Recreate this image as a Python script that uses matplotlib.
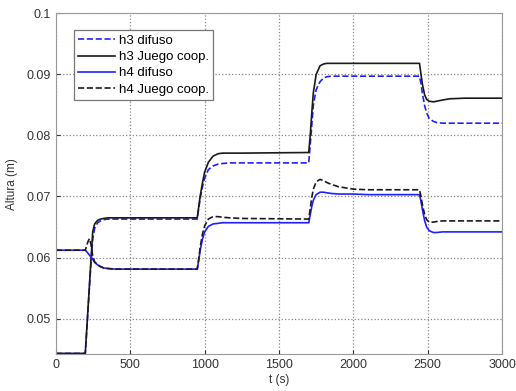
import matplotlib
matplotlib.use("Agg")
import matplotlib.pyplot as plt

plt.rcParams['font.family'] = ['Liberation Sans', 'DejaVu Sans']

# Time points (s)
t = [0, 197, 205, 215, 225, 235, 247, 260, 280, 300, 320, 350, 400,
     950, 960, 970, 985, 1000, 1025, 1056, 1090, 1120, 1170, 1250,
     1700, 1710, 1720, 1731, 1750, 1776, 1800, 1821, 1850, 1900, 2000, 2100,
     2445, 2455, 2465, 2480, 2493, 2510, 2538, 2561, 2600, 2650, 2750, 3000]

h3_difuso = [0.0443, 0.0443, 0.0473, 0.0512, 0.0552, 0.0590, 0.0630, 0.0648, 0.0657, 0.0660, 0.0662, 0.0663, 0.0663,
             0.0663, 0.0680, 0.0697, 0.0716, 0.0730, 0.0744, 0.0750, 0.0753, 0.0754, 0.0755, 0.0755,
             0.0755, 0.0785, 0.0815, 0.0850, 0.0875, 0.0888, 0.0894, 0.0896, 0.0897, 0.0897, 0.0897, 0.0897,
             0.0897, 0.0885, 0.0868, 0.0848, 0.0837, 0.0828, 0.0823, 0.0821, 0.0820, 0.0820, 0.0820, 0.0820]

h3_coop = [0.0443, 0.0443, 0.0475, 0.0515, 0.0555, 0.0595, 0.0642, 0.0655, 0.0661, 0.0663, 0.0664, 0.0665, 0.0665,
           0.0665, 0.0683, 0.0701, 0.0722, 0.0740, 0.0756, 0.0766, 0.0770, 0.0771, 0.0771, 0.0771,
           0.0772, 0.0800, 0.0835, 0.0870, 0.0900, 0.0914, 0.0917, 0.0918, 0.0918, 0.0918, 0.0918, 0.0918,
           0.0918, 0.0900, 0.0883, 0.0866, 0.0859, 0.0856, 0.0855, 0.0856, 0.0858, 0.0860, 0.0861, 0.0861]

h4_difuso = [0.0612, 0.0612, 0.0610, 0.0607, 0.0604, 0.0601, 0.0597, 0.0592, 0.0588, 0.0585, 0.0583, 0.0582, 0.0581,
             0.0581, 0.0595, 0.0612, 0.0630, 0.0642, 0.0651, 0.0655, 0.0656, 0.0657, 0.0657, 0.0657,
             0.0657, 0.0670, 0.0683, 0.0694, 0.0703, 0.0707, 0.0707, 0.0706, 0.0705, 0.0704, 0.0704, 0.0703,
             0.0703, 0.0692, 0.0678, 0.0660, 0.0650, 0.0644, 0.0641, 0.0641, 0.0642, 0.0642, 0.0642, 0.0642]

h4_coop = [0.0612, 0.0612, 0.0618, 0.0626, 0.0631, 0.0622, 0.0603, 0.0593, 0.0588, 0.0585, 0.0583, 0.0582, 0.0581,
           0.0581, 0.0598, 0.0617, 0.0638, 0.0652, 0.0663, 0.0667, 0.0667, 0.0666, 0.0665, 0.0664,
           0.0663, 0.0680, 0.0698, 0.0712, 0.0724, 0.0728, 0.0726, 0.0723, 0.0720, 0.0716, 0.0712, 0.0711,
           0.0711, 0.0700, 0.0686, 0.0670, 0.0662, 0.0658, 0.0658, 0.0659, 0.0660, 0.0660, 0.0660, 0.0660]

blue = '#2020ff'
black = '#1a1a1a'

fig = plt.figure(figsize=(5.16, 3.91), dpi=100)
ax = fig.add_axes([0.1085, 0.0946, 0.8644, 0.8714])

ax.plot(t, h3_difuso, '--', color=blue, lw=1.2, label='h3 difuso')
ax.plot(t, h3_coop, '-', color=black, lw=1.2, label='h3 Juego coop.')
ax.plot(t, h4_difuso, '-', color=blue, lw=1.2, label='h4 difuso')
ax.plot(t, h4_coop, '--', color=black, lw=1.2, label='h4 Juego coop.')

ax.set_xlim(0, 3000)
ax.set_ylim(0.0442, 0.1)
ax.set_xticks([0, 500, 1000, 1500, 2000, 2500, 3000])
ax.set_yticks([0.05, 0.06, 0.07, 0.08, 0.09, 0.1])
ax.set_yticklabels(['0.05', '0.06', '0.07', '0.08', '0.09', '0.1'])
ax.grid(True, linestyle=':', color='#888888', lw=0.9)
ax.tick_params(direction='in', labelsize=9, colors='#333333', length=3)
for s in ax.spines.values():
    s.set_color('#999999')

ax.set_xlabel('t (s)', fontsize=8.5, color='#333333', labelpad=2)
ax.set_ylabel('Altura (m)', fontsize=8.5, color='#333333', labelpad=6)

leg = ax.legend(loc='upper left', bbox_to_anchor=(0.025, 0.97), fontsize=9.5,
                fancybox=False, framealpha=1, edgecolor='#777777',
                handlelength=2.8, borderpad=0.35, labelspacing=0.3, handletextpad=0.25)
leg.get_frame().set_linewidth(0.9)

fig.savefig('out.png', dpi=100)
